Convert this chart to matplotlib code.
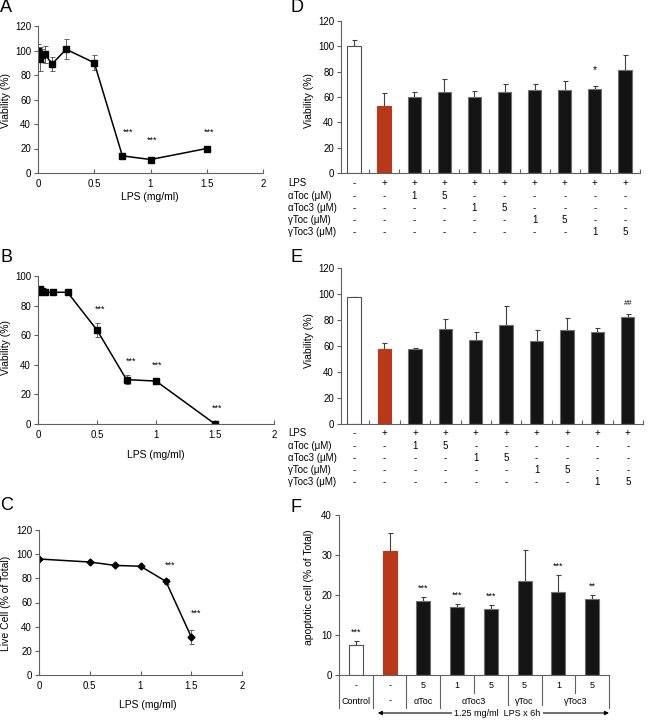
import numpy as np
import matplotlib
matplotlib.use("Agg")
import matplotlib.pyplot as plt
from matplotlib.transforms import blended_transform_factory

plt.rcParams['font.family'] = ['Liberation Sans', 'DejaVu Sans']
plt.rcParams['font.size'] = 7

W, H = 671, 720

# ---- data ----
lps_ab = [0, 0.0078, 0.0156, 0.03125, 0.0625, 0.125, 0.25, 0.5, 0.75, 1, 1.5]
via_a = [100, 97, 93, 96, 97, 89, 101, 90, 14, 11, 20]
err_a = [5, 5, 10, 5, 7, 6, 8, 6, 1.5, 1, 1]
star_a = [(0.8, 33.5), (1.01, 27), (1.52, 33.5)]

via_b = [90, 89, 91, 90, 89, 89, 89, 63.5, 30, 29, 0]
err_b = [1, 1, 1, 1, 0.5, 0.5, 0.5, 5, 3, 0.5, 2]
star_b = [(0.53, 77.5), (0.79, 42.5), (1.01, 40), (1.52, 10.6)]

lps_c = [0, 0.5, 0.75, 1, 1.25, 1.5]
live_c = [96, 93.5, 90.7, 90, 77.5, 31.5]
err_c = [0.5, 0.5, 0.5, 0.5, 2, 6]
star_c = [(1.29, 90.5), (1.55, 51)]

via_d = [100, 53, 60, 64, 60, 64, 65.5, 65.5, 66, 81]
err_d = [5, 10, 4, 10.5, 5, 6.5, 5, 7, 3, 12]
via_e = [97.5, 58, 57.5, 73, 65, 76, 64, 72.5, 70.5, 82.5]
err_e = [0.5, 4, 1, 8, 5.5, 15, 8.5, 9, 3, 2]

row_labels = ['LPS', 'αToc (μM)', 'αToc3 (μM)', 'γToc (μM)', 'γToc3 (μM)']
table_de = [
    ['-', '+', '+', '+', '+', '+', '+', '+', '+', '+'],
    ['-', '-', '1', '5', '-', '-', '-', '-', '-', '-'],
    ['-', '-', '-', '-', '1', '5', '-', '-', '-', '-'],
    ['-', '-', '-', '-', '-', '-', '1', '5', '-', '-'],
    ['-', '-', '-', '-', '-', '-', '-', '-', '1', '5'],
]

apo_f = [7.5, 31, 18.5, 16.9, 16.5, 23.6, 20.7, 19.1]
err_f = [1.1, 4.4, 1, 0.8, 1, 7.6, 4.2, 1]
sig_f = ['***', '', '***', '***', '***', '', '***', '**']
dose_f = ['-', '-', '5', '1', '5', '5', '1', '5']
group_f = [('Control', 0), ('-', 1), ('αToc', 2), ('αToc3', 3.5), ('γToc', 5), ('γToc3', 6.5)]

RED = '#b8381c'
BLACK = '#141414'
GREY = '#606060'

fig = plt.figure(figsize=(W / 100, H / 100), dpi=100)


def add_ax(x0, y0, x1, y1):
    return fig.add_axes([x0 / W, 1 - y1 / H, (x1 - x0) / W, (y1 - y0) / H])


def fy(ypx):
    return 1 - ypx / H


def style(ax):
    for s in ['top', 'right']:
        ax.spines[s].set_visible(False)
    for s in ['left', 'bottom']:
        ax.spines[s].set_color(GREY)
        ax.spines[s].set_linewidth(0.8)
    ax.tick_params(axis='y', direction='out', length=3, color=GREY, labelsize=7, pad=2)
    ax.tick_params(axis='x', direction='in', length=3, color=GREY, labelsize=7, pad=4)


def ylab(text, xpx, ypx):
    fig.text(xpx / W, fy(ypx), text, rotation=90, ha='center', va='center', fontsize=7.5)


def line_panel(ax, x, y, e, marker, ms, ylim, stars):
    ax.errorbar(x, y, yerr=e, fmt='-', marker=marker, color='black', ms=ms, lw=1.1,
                ecolor=GREY, elinewidth=0.7, capsize=1.8, capthick=0.7)
    style(ax)
    ax.set_xlim(0, 2)
    ax.set_ylim(*ylim)
    ax.set_xticks([0, 0.5, 1, 1.5, 2])
    ax.set_xticklabels(['0', '0.5', '1', '1.5', '2'])
    ax.set_yticks(np.arange(0, ylim[1] + 1, 20))
    for sx, sy in stars:
        ax.text(sx, sy, '***', ha='center', va='center', fontsize=6.5)


def bar_panel(ax, vals, errs, ylim, rows_y):
    n = len(vals)
    xs = np.arange(n)
    colors = ['white', RED] + [BLACK] * (n - 2)
    edges = ['#505050', RED] + ['#707070'] * (n - 2)
    ax.bar(xs, vals, width=0.44, color=colors, edgecolor=edges, linewidth=0.8, zorder=2)
    ax.errorbar(xs, vals, yerr=[np.zeros(n), errs], fmt='none', ecolor='#404040',
                elinewidth=0.8, capsize=1.8, capthick=0.8, zorder=1)
    style(ax)
    ax.set_xlim(-0.43, n - 0.5)
    ax.set_ylim(*ylim)
    ax.set_yticks(np.arange(0, ylim[1] + 1, 20))
    ax.set_xticks(np.arange(0.5, n, 1))
    ax.set_xticklabels([])
    tr = blended_transform_factory(ax.transData, fig.transFigure)
    for r, (lab, ry) in enumerate(zip(row_labels, rows_y)):
        fig.text(288 / W, fy(ry), lab, ha='left', va='center', fontsize=7)
        for c in range(n):
            ax.text(c, fy(ry), table_de[r][c], transform=tr, ha='center', va='center',
                    fontsize=7, clip_on=False)


# ---- A ----
axA = add_ax(38, 26, 263, 173)
line_panel(axA, lps_ab, via_a, err_a, 's', 4, (0, 120), star_a)
fig.text(150 / W, fy(197), 'LPS (mg/ml)', ha='center', va='center', fontsize=7.5)
ylab('Viability (%)', 6, 100)

# ---- B ----
axB = add_ax(38, 276, 274, 424)
line_panel(axB, lps_ab, via_b, err_b, 's', 4, (0, 100), star_b)
fig.text(156 / W, fy(455), 'LPS (mg/ml)', ha='center', va='center', fontsize=7.5)
ylab('Viability (%)', 6, 347)

# ---- C ----
axC = add_ax(39, 530, 242, 675)
line_panel(axC, lps_c, live_c, err_c, 'D', 3.5, (0, 120), star_c)
fig.text(148 / W, fy(705), 'LPS (mg/ml)', ha='center', va='center', fontsize=7.5)
ylab('Live Cell (% of Total)', 6, 603)

# ---- D ----
axD = add_ax(341, 21, 640, 173)
bar_panel(axD, via_d, err_d, (0, 120), [183, 196, 208, 220, 232])
axD.text(8, 81, '*', ha='center', va='center', fontsize=7.5)
ylab('Viability (%)', 309, 100)

# ---- E ----
axE = add_ax(341, 268, 643, 424)
bar_panel(axE, via_e, err_e, (0, 120), [433, 446, 458, 470, 482])
axE.text(9, 93, '##', ha='center', va='center', fontsize=5.5)
ylab('Viability (%)', 309, 340)

# ---- F ----
axF = add_ax(339, 515, 609, 675)
xs = np.arange(len(apo_f))
colors = ['white', RED] + [BLACK] * (len(apo_f) - 2)
edges = ['#505050', RED] + ['#707070'] * (len(apo_f) - 2)
axF.bar(xs, apo_f, width=0.42, color=colors, edgecolor=edges, linewidth=0.8, zorder=2)
axF.errorbar(xs, apo_f, yerr=[np.zeros(len(xs)), err_f], fmt='none', ecolor='#404040',
             elinewidth=0.8, capsize=1.8, capthick=0.8, zorder=1)
style(axF)
axF.set_xlim(-0.5, len(apo_f) - 0.5)
axF.set_ylim(0, 40)
axF.set_yticks([0, 10, 20, 30, 40])
axF.set_xticks([])
for i, s in enumerate(sig_f):
    if s:
        axF.text(i, apo_f[i] + err_f[i] + 2.2, s, ha='center', va='center', fontsize=6.5)
ylab('apoptotic cell (% of Total)', 309, 587)

trF = blended_transform_factory(axF.transData, fig.transFigure)
for i, d in enumerate(dose_f):
    axF.text(i, fy(686), d, transform=trF, ha='center', va='center', fontsize=6.5)
for g, gx in group_f:
    axF.text(gx, fy(701), g, transform=trF, ha='center', va='center', fontsize=6.5)
for bx in [-0.5, 0.5, 1.5, 2.5, 4.5, 5.5, 7.5]:
    axF.plot([bx, bx], [fy(675), fy(708)], transform=trF, color=GREY, lw=0.8, clip_on=False)
for bx in [3.5, 6.5]:
    axF.plot([bx, bx], [fy(675), fy(693)], transform=trF, color=GREY, lw=0.8, clip_on=False)
arr = axF.annotate('', xy=(7.5, fy(713)), xytext=(0.65, fy(713)), xycoords=trF, textcoords=trF,
                   arrowprops=dict(arrowstyle='<|-|>', color='black', lw=0.8,
                                   mutation_scale=6, shrinkA=0, shrinkB=0))
arr.set_zorder(3)
lt = axF.text(4.2, fy(713), '1.25 mg/ml  LPS x 6h', transform=trF, ha='center', va='center',
              fontsize=6.5, bbox=dict(facecolor='white', edgecolor='none', pad=1.5))
lt.set_zorder(5)

# panel letters
for letter, lx, ly in [('A', 0, 7), ('D', 290, 7), ('B', 0, 257), ('E', 290, 257),
                       ('C', 0, 505), ('F', 290, 508)]:
    fig.text(lx / W, fy(ly), letter, ha='left', va='center', fontsize=13)

fig.savefig('out.png', dpi=100)
